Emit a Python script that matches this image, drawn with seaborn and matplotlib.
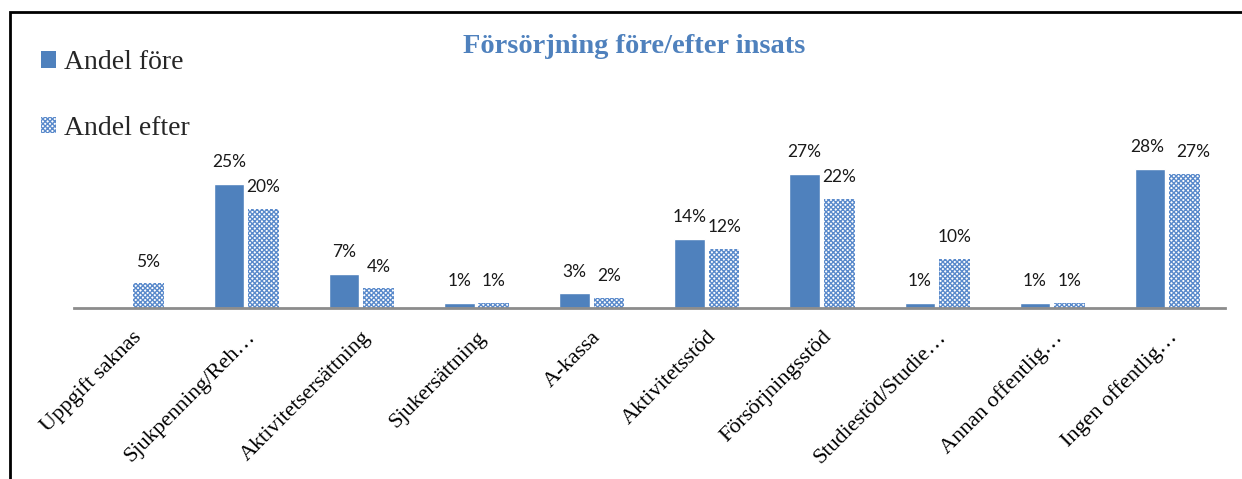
import numpy as np
import pandas as pd
import seaborn as sns
import matplotlib.pyplot as plt
from matplotlib.patches import Patch, Rectangle

# Data
kategorier = ['Uppgift saknas', 'Sjukpenning/Reh\u2026', 'Aktivitetsersättning', 'Sjukersättning',
              'A-kassa', 'Aktivitetsstöd', 'Försörjningsstöd', 'Studiestöd/Studie\u2026',
              'Annan offentlig\u2026', 'Ingen offentlig\u2026']
andel_fore = [0, 25, 7, 1, 3, 14, 27, 1, 1, 28]
andel_efter = [5, 20, 4, 1, 2, 12, 22, 10, 1, 27]
serier = ['Andel före', 'Andel efter']

blue = '#4F81BD'
hatch_blue = '#5A8ACB'

df = pd.DataFrame({
    'Kategori': kategorier * 2,
    'Andel': andel_fore + andel_efter,
    'Serie': [serier[0]] * len(kategorier) + [serier[1]] * len(kategorier),
})

sns.set_style('white')
plt.rcParams['font.family'] = ['Liberation Serif', 'DejaVu Serif']
plt.rcParams['hatch.linewidth'] = 1.0

fig = plt.figure(figsize=(12.42, 4.79), dpi=100)
ax = fig.add_axes([0.0592, 0.3564, 0.9271, 0.3109])

sns.barplot(data=df, x='Kategori', y='Andel', hue='Serie', order=kategorier,
            hue_order=serier, palette=[blue, blue], saturation=1, width=0.6,
            gap=0.113, legend=False, ax=ax)

# second series: checkered pattern
for bar in ax.containers[1]:
    bar.set_facecolor('white')
    bar.set_edgecolor(hatch_blue)
    bar.set_hatch('xxxxxxx')
    bar.set_linewidth(0)

texts = []
for cont in ax.containers:
    labels = [f'{v:.0f}%' if v > 0 else '' for v in cont.datavalues]
    texts.append(ax.bar_label(cont, labels=labels, padding=10, fontsize=12.5,
                              family=['Lato', 'DejaVu Sans'], color='#1a1a1a'))

# last pair labels sit close together, push them apart a little
texts[0][-1].xyann = (-2, 10)
texts[1][-1].xyann = (6, 10)

ax.set_ylim(0, 30)
ax.set_xlim(-0.5, len(kategorier) - 0.5)
ax.set_xlabel('')
ax.set_ylabel('')
ax.set_yticks([])
ax.tick_params(axis='x', length=0, pad=14)
plt.setp(ax.get_xticklabels(), rotation=45, ha='right', va='top',
         rotation_mode='anchor', fontsize=16, color='black')
for side in ['top', 'right', 'left']:
    ax.spines[side].set_visible(False)
ax.spines['bottom'].set_color('#8C8C8C')
ax.spines['bottom'].set_linewidth(2)

fig.text(0.5105, 0.902, 'Försörjning före/efter insats', ha='center', va='center',
         fontsize=20.5, fontweight='bold', color=blue)

handles = [Patch(facecolor=blue, edgecolor='none'),
           Patch(facecolor='white', edgecolor=hatch_blue, hatch='xxxxxxx', linewidth=0)]
fig.legend(handles, serier, loc='upper left', bbox_to_anchor=(0.033, 0.8946),
           frameon=False, fontsize=20, handlelength=0.54, handleheight=0.54,
           handletextpad=0.3, labelspacing=1.45, borderpad=0, borderaxespad=0)

# outer frame (only top and left visible)
fig.patches.append(Rectangle((10 / 1242, -0.2), 1.2, 1.2 - 12 / 479,
                             transform=fig.transFigure, fill=False,
                             edgecolor='black', linewidth=2))

fig.savefig('out.png', dpi=100)
